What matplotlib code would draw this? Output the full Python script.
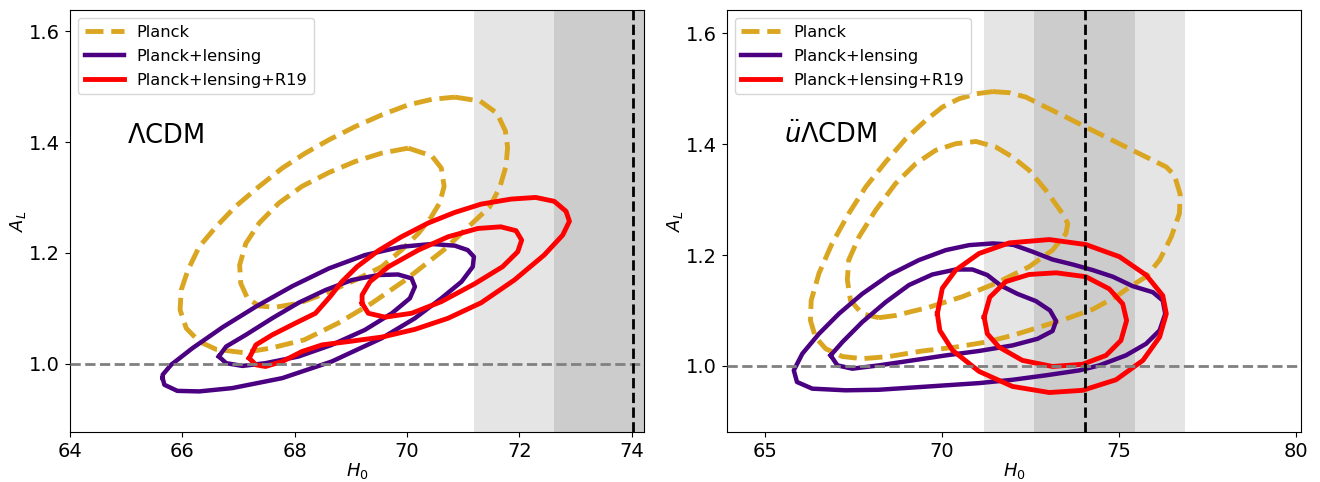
import matplotlib.pyplot as plt

# R19 H0 prior (mean, 1 sigma)
h0_r19 = 74.03
h0_r19_err = 1.42

# contours, (H0, A_L) points, inner = 68%, outer = 95%
# --- LCDM panel ---
lcdm_planck_out = [(70.85, 1.481), (71.30, 1.474), (71.60, 1.452), (71.75, 1.420), (71.79, 1.390),
                   (71.76, 1.356), (71.65, 1.318), (71.47, 1.283), (71.03, 1.241), (70.65, 1.205),
                   (69.97, 1.151), (69.37, 1.109), (68.77, 1.073), (68.17, 1.043), (67.57, 1.028),
                   (67.08, 1.020), (66.60, 1.026), (66.30, 1.040), (66.07, 1.064), (65.96, 1.097),
                   (65.98, 1.133), (66.10, 1.169), (66.30, 1.211), (66.60, 1.247), (66.95, 1.284),
                   (67.37, 1.320), (67.78, 1.353), (68.19, 1.380), (68.61, 1.404), (69.08, 1.428),
                   (69.55, 1.449), (70.02, 1.467), (70.44, 1.477)]
lcdm_planck_in = [(70.02, 1.389), (70.44, 1.375), (70.61, 1.353), (70.66, 1.320), (70.58, 1.290),
                  (70.42, 1.263), (70.20, 1.235), (69.90, 1.205), (69.55, 1.175), (69.08, 1.151),
                  (68.55, 1.127), (68.07, 1.109), (67.66, 1.102), (67.37, 1.104), (67.16, 1.118),
                  (67.04, 1.145), (67.02, 1.178), (67.13, 1.217), (67.37, 1.254), (67.72, 1.290),
                  (68.13, 1.320), (68.61, 1.345), (69.08, 1.365), (69.55, 1.380)]
lcdm_lens_out = [(65.65, 0.974), (65.68, 0.962), (65.91, 0.951), (66.30, 0.950), (66.89, 0.956),
                 (67.78, 0.974), (68.66, 1.004), (69.55, 1.046), (70.14, 1.082), (70.61, 1.118),
                 (70.97, 1.148), (71.17, 1.175), (71.19, 1.193), (71.08, 1.205), (70.85, 1.213),
                 (70.44, 1.216), (69.90, 1.211), (69.25, 1.196), (68.61, 1.172), (67.96, 1.140),
                 (67.31, 1.103), (66.72, 1.066), (66.18, 1.028), (65.80, 0.998), (65.65, 0.980)]
lcdm_lens_in = [(66.65, 1.013), (66.78, 1.001), (67.07, 0.996), (67.48, 1.001), (68.07, 1.013),
                (68.66, 1.034), (69.25, 1.061), (69.73, 1.091), (70.05, 1.118), (70.14, 1.139),
                (70.08, 1.154), (69.84, 1.161), (69.49, 1.160), (69.02, 1.151), (68.55, 1.133),
                (68.07, 1.110), (67.60, 1.082), (67.13, 1.052), (66.78, 1.031)]
lcdm_r19_out = [(67.19, 1.010), (67.31, 0.998), (67.48, 0.995), (67.78, 1.004), (68.13, 1.022),
                (68.49, 1.034), (68.96, 1.040), (69.55, 1.048), (70.14, 1.062), (70.73, 1.082),
                (71.32, 1.110), (71.91, 1.151), (72.44, 1.196), (72.77, 1.232), (72.89, 1.257),
                (72.83, 1.275), (72.62, 1.293), (72.29, 1.300), (71.85, 1.297), (71.32, 1.288),
                (70.85, 1.273), (70.38, 1.254), (69.90, 1.229), (69.49, 1.204), (69.11, 1.175),
                (68.84, 1.148), (68.63, 1.121), (68.37, 1.091), (68.01, 1.073), (67.60, 1.052),
                (67.31, 1.034)]
lcdm_r19_in = [(69.20, 1.109), (69.31, 1.091), (69.61, 1.084), (70.08, 1.091), (70.61, 1.112),
               (71.20, 1.144), (71.70, 1.175), (71.97, 1.202), (72.04, 1.223), (71.94, 1.240),
               (71.67, 1.247), (71.26, 1.244), (70.73, 1.229), (70.20, 1.205), (69.67, 1.175),
               (69.34, 1.148), (69.20, 1.124)]

# --- u-dot-dot LCDM panel ---
ulcdm_planck_out = [(71.43, 1.495), (71.90, 1.493), (72.37, 1.485), (72.93, 1.467), (73.50, 1.449),
                    (74.06, 1.431), (74.72, 1.410), (75.38, 1.389), (75.95, 1.371), (76.33, 1.359),
                    (76.56, 1.344), (76.72, 1.310), (76.70, 1.275), (76.47, 1.233), (76.14, 1.191),
                    (75.76, 1.161), (75.38, 1.146), (74.91, 1.125), (74.25, 1.102), (73.50, 1.085),
                    (72.75, 1.070), (71.99, 1.055), (71.24, 1.043), (70.39, 1.034), (69.45, 1.027),
                    (68.51, 1.017), (67.75, 1.013), (67.19, 1.017), (66.72, 1.031), (66.43, 1.052),
                    (66.29, 1.082), (66.31, 1.118), (66.53, 1.167), (66.90, 1.221), (67.37, 1.275),
                    (67.85, 1.323), (68.41, 1.368), (68.98, 1.410), (69.54, 1.443), (70.01, 1.467),
                    (70.48, 1.482), (70.96, 1.491)]
ulcdm_planck_in = [(68.22, 1.087), (68.69, 1.091), (69.64, 1.106), (70.58, 1.125), (71.52, 1.149),
                   (72.46, 1.179), (73.12, 1.209), (73.50, 1.239), (73.55, 1.257), (73.40, 1.275),
                   (72.93, 1.317), (72.46, 1.353), (71.99, 1.377), (71.52, 1.395), (70.96, 1.405),
                   (70.39, 1.401), (69.82, 1.389), (69.26, 1.365), (68.69, 1.329), (68.13, 1.281),
                   (67.66, 1.233), (67.37, 1.191), (67.33, 1.155), (67.42, 1.118), (67.75, 1.094)]
ulcdm_lens_out = [(71.99, 1.219), (72.56, 1.206), (73.12, 1.192), (73.69, 1.183), (74.25, 1.173),
                  (74.82, 1.161), (75.38, 1.144), (75.95, 1.133), (76.23, 1.118), (76.30, 1.094),
                  (76.14, 1.064), (75.76, 1.040), (75.19, 1.019), (74.44, 1.001), (73.88, 0.992),
                  (72.93, 0.983), (71.99, 0.975), (71.05, 0.969), (70.11, 0.965), (69.17, 0.961),
                  (68.22, 0.957), (67.28, 0.956), (66.34, 0.959), (65.91, 0.971), (65.82, 0.992),
                  (66.06, 1.022), (66.53, 1.058), (67.09, 1.094), (67.75, 1.130), (68.51, 1.164),
                  (69.35, 1.191), (70.11, 1.209), (70.77, 1.218), (71.43, 1.221)]
ulcdm_lens_in = [(66.86, 1.019), (67.05, 1.001), (67.47, 0.995), (68.22, 1.001), (69.17, 1.010),
                 (70.11, 1.019), (71.05, 1.027), (71.99, 1.037), (72.70, 1.049), (73.12, 1.063),
                 (73.22, 1.081), (73.05, 1.100), (72.65, 1.117), (72.13, 1.130), (71.66, 1.145),
                 (71.28, 1.164), (70.86, 1.174), (70.39, 1.174), (69.73, 1.165), (69.07, 1.146),
                 (68.41, 1.115), (67.75, 1.079), (67.19, 1.043)]
ulcdm_r19_out = [(69.87, 1.094), (70.01, 1.140), (70.39, 1.173), (71.05, 1.203), (71.90, 1.222),
                 (73.03, 1.228), (74.06, 1.219), (75.01, 1.197), (75.76, 1.164), (76.23, 1.127),
                 (76.33, 1.094), (76.14, 1.052), (75.67, 1.010), (74.91, 0.975), (73.97, 0.956),
                 (73.03, 0.952), (71.99, 0.963), (71.05, 0.990), (70.30, 1.028), (69.94, 1.064)]
ulcdm_r19_in = [(71.19, 1.088), (71.35, 1.124), (71.80, 1.152), (72.46, 1.165), (73.22, 1.168),
                (74.06, 1.161), (74.72, 1.139), (75.10, 1.112), (75.21, 1.082), (75.05, 1.046),
                (74.63, 1.019), (73.97, 1.003), (73.12, 0.999), (72.27, 1.010), (71.61, 1.034),
                (71.28, 1.058)]

panels = [
    dict(label=r'$\Lambda$CDM', xlim=(64, 74.22), ylim=(0.877, 1.638), xticks=[64, 66, 68, 70, 72, 74],
         planck=[lcdm_planck_in, lcdm_planck_out], lens=[lcdm_lens_in, lcdm_lens_out],
         r19=[lcdm_r19_in, lcdm_r19_out]),
    dict(label=r'$\ddot{u}\Lambda$CDM', xlim=(63.93, 80.13), ylim=(0.881, 1.642), xticks=[65, 70, 75, 80],
         planck=[ulcdm_planck_in, ulcdm_planck_out], lens=[ulcdm_lens_in, ulcdm_lens_out],
         r19=[ulcdm_r19_in, ulcdm_r19_out]),
]

styles = [
    ("planck", "Planck", dict(color="#DAA520", ls="--", lw=3.5)),
    ("lens", "Planck+lensing", dict(color="#4B0082", ls="-", lw=3.2)),
    ("r19", "Planck+lensing+R19", dict(color="red", ls="-", lw=3.5)),
]


def closed(pts):
    xs = [p[0] for p in pts] + [pts[0][0]]
    ys = [p[1] for p in pts] + [pts[0][1]]
    return xs, ys


fig, axes = plt.subplots(1, 2, figsize=(13.2, 4.82), dpi=100)
plt.subplots_adjust(left=0.053, right=0.9856, bottom=0.104, top=0.979, wspace=0.144)

for ax, p in zip(axes, panels):
    ax.axvspan(h0_r19 - 2 * h0_r19_err, h0_r19 + 2 * h0_r19_err, color="#e5e5e5", lw=0, zorder=0)
    ax.axvspan(h0_r19 - h0_r19_err, h0_r19 + h0_r19_err, color="#cccccc", lw=0, zorder=0)

    for key, name, st in styles:
        for k, pts in enumerate(p[key]):
            xs, ys = closed(pts)
            ax.plot(xs, ys, label=name if k == 0 else None, solid_joinstyle="round",
                    dash_capstyle="butt", **st)

    ax.axhline(1.0, color="gray", ls="--", lw=2, zorder=5)
    ax.axvline(h0_r19, color="black", ls="--", lw=2, zorder=5)

    ax.text(0.1, 0.685, p["label"], transform=ax.transAxes, fontsize=18.5, va="baseline")

    ax.set_xlim(*p["xlim"])
    ax.set_ylim(*p["ylim"])
    ax.set_xticks(p["xticks"])
    ax.set_yticks([1.0, 1.2, 1.4, 1.6])
    ax.tick_params(labelsize=14)
    ax.set_xlabel(r"$H_0$", fontsize=13, labelpad=0)
    ax.set_ylabel(r"$A_L$", fontsize=13, labelpad=1)
    ax.legend(loc="upper left", fontsize=11.7, handlelength=2.4, labelspacing=0.55)

plt.savefig("out.png")
